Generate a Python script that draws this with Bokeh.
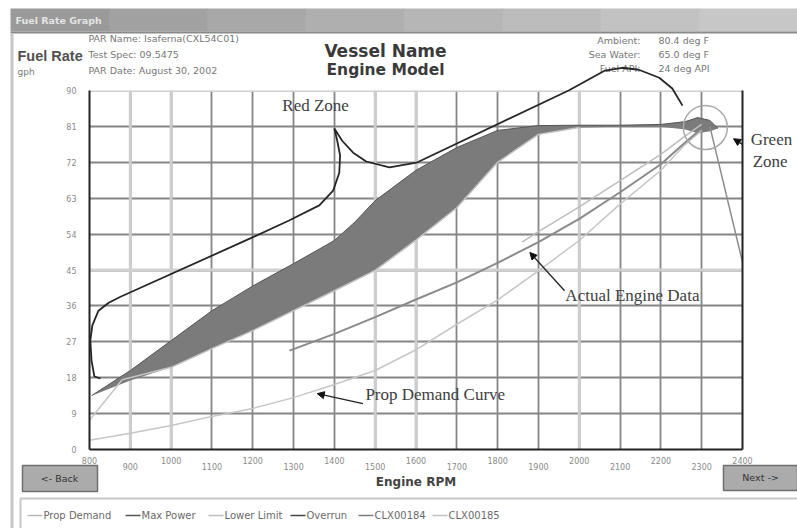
from bokeh.plotting import figure
from bokeh.models import (FixedTicker, Span, Range1d, Arrow, NormalHead, LinearAxis)
from bokeh.core.properties import value
from bokeh.embed import file_html
from bokeh.resources import INLINE

# ---------------- data ----------------
x_ticks = list(range(800, 2401, 100))
x_tick_labels = [str(t) for t in x_ticks]
y_ticks = list(range(0, 91, 9))
light_grid_rpm = [900, 1000, 1500, 1600, 2000]
light_grid_gph = [45, 90]

band_rpm = [805, 900, 1000, 1100, 1200, 1300, 1400, 1450, 1500, 1600, 1700, 1800, 1900, 2000,
            2100, 2200, 2260, 2290, 2320, 2340]
max_power_gph = [13.5, 19.8, 27.3, 34.8, 41.0, 46.6, 52.4, 57.0, 62.4, 70.0, 75.7, 80.0, 81.2, 81.3,
                 81.3, 81.5, 82.2, 83.2, 82.5, 80.5]
band_lower_gph = [13.5, 17.3, 20.6, 25.3, 29.8, 34.8, 39.8, 42.3, 44.9, 52.5, 60.6, 72.0, 79.0, 80.7,
                  80.9, 80.9, 80.2, 79.3, 79.8, 80.5]

lower_limit_rpm = [800, 880, 1000, 1100, 1200, 1300, 1400, 1500, 1600, 1700, 1800, 1900, 2000]
lower_limit_gph = [7.3, 17.5, 20.6, 25.3, 29.8, 34.8, 39.8, 44.9, 52.5, 60.6, 72.0, 79.0, 80.7]

prop_rpm = [800, 900, 1000, 1100, 1200, 1300, 1400, 1500, 1600, 1700, 1800, 1900, 2000, 2100,
            2200, 2260, 2300]
prop_gph = [2.3, 4.1, 6.0, 8.3, 10.3, 13.0, 16.3, 19.8, 25.0, 31.4, 37.5, 44.8, 52.4, 61.5,
            70.0, 76.5, 80.0]

clx184_rpm = [1290, 1400, 1500, 1600, 1700, 1800, 1900, 2000, 2100, 2200, 2260, 2300]
clx184_gph = [24.8, 29.0, 33.2, 37.6, 41.9, 46.8, 52.0, 57.8, 64.5, 71.5, 77.0, 80.5]

clx185_rpm = [1860, 1900, 2000, 2100, 2200, 2260, 2300]
clx185_gph = [52.0, 54.6, 60.8, 67.4, 74.0, 78.6, 81.5]

overrun_rpm = [2320, 2400]
overrun_gph = [81.0, 47.0]

red_zone_rpm = [827, 812, 805, 802, 807, 822, 847, 876, 1198, 1289, 1363, 1397, 1412, 1414, 1407,
                1400, 1419, 1446, 1478, 1535, 1601, 1974, 2063, 2105, 2146, 2196, 2228, 2253]
red_zone_gph = [17.8, 18.3, 22.3, 27.3, 31.1, 34.8, 36.8, 38.3, 53.1, 57.4, 61.2, 64.9, 69.4, 73.7,
                77.4, 80.5, 77.4, 74.4, 72.2, 70.7, 71.9, 90.0, 95.0, 95.7, 95.2, 93.2, 90.5, 86.2]

green_zone_rpm = [2309]
green_zone_gph = [80.7]

callout_text = ["Actual Engine Data", "Prop Demand Curve", "Green", "Zone"]
callout_text_rpm = [1966, 1476, 2420, 2425]
callout_text_gph = [38.6, 13.8, 77.7, 72.2]
red_zone_label = ["Red Zone"]
red_zone_label_rpm = [1354]
red_zone_label_gph = [86.2]
callout_from_rpm = [1964, 1470, 2400]
callout_from_gph = [39.8, 11.5, 76.5]
callout_to_rpm = [1879, 1358, 2378]
callout_to_gph = [49.4, 14.0, 77.9]

legend_labels = ["Prop Demand", "Max Power", "Lower Limit", "Overrun", "CLX00184", "CLX00185"]
legend_colors = ["#b8b8b8", "#555555", "#bdbdbd", "#444444", "#7c7c7c", "#c0c0c0"]

header_left = ["PAR Name: Isaferna(CXL54C01)", "Test Spec: 09.5475", "PAR Date: August 30, 2002"]
header_right_keys = ["Ambient:", "Sea Water:", "Fuel API:"]
header_right_vals = ["80.4 deg F", "65.0 deg F", "24 deg API"]

SANS = "DejaVu Sans"
ARIAL = "Liberation Sans"
SERIF = "Liberation Serif"

# ---------------- figure ----------------
W, H = 797, 528
p = figure(width=W, height=H, x_range=(800, 2400), y_range=(0, 90),
           output_backend="svg", toolbar_location=None,
           min_border_left=89, min_border_right=55, min_border_top=90, min_border_bottom=79,
           background_fill_color="white", border_fill_color="white")
p.outline_line_color = None
# page-pixel coordinate system (identical to canvas pixels) for the window chrome
p.extra_x_ranges = {"px": Range1d(89, 742)}
p.extra_y_ranges = {"px": Range1d(449, 90)}
PX = dict(x_range_name="px", y_range_name="px", level="overlay")

# grid
p.xgrid.ticker = FixedTicker(ticks=x_ticks)
p.ygrid.ticker = FixedTicker(ticks=y_ticks)
for g in (p.xgrid, p.ygrid):
    g.grid_line_color = "#858585"
    g.grid_line_width = 1.8
for r in light_grid_rpm:
    p.add_layout(Span(location=r, dimension="height", line_color="#cdcdcd", line_width=3, level="underlay"))
for g in light_grid_gph:
    p.add_layout(Span(location=g, dimension="width", line_color="#d0d0d0", line_width=3, level="underlay"))

# axes
p.yaxis.ticker = FixedTicker(ticks=y_ticks)
p.yaxis.major_tick_line_color = None
p.yaxis.minor_tick_line_color = None
p.yaxis.axis_line_color = "#222222"
p.yaxis.axis_line_width = 2
p.yaxis.major_label_text_font = SANS
p.yaxis.major_label_text_font_size = "8px"
p.yaxis.major_label_text_color = "#8a8a8a"
p.yaxis.major_label_standoff = 7

p.xaxis.ticker = FixedTicker(ticks=x_ticks)
p.xaxis.major_tick_line_color = None
p.xaxis.minor_tick_line_color = None
p.xaxis.axis_line_color = "#222222"
p.xaxis.axis_line_width = 2
p.xaxis.major_label_text_font_size = "8px"
p.xaxis.major_label_text_color = None
p.xaxis.major_label_standoff = 6
p.xaxis.axis_label = "Engine RPM"
p.xaxis.axis_label_text_font = SANS
p.xaxis.axis_label_text_font_style = "bold"
p.xaxis.axis_label_text_font_size = "12px"
p.xaxis.axis_label_text_color = "#444444"
p.xaxis.axis_label_standoff = 19

right_axis = LinearAxis(ticker=FixedTicker(ticks=[]), major_tick_line_color=None,
                        minor_tick_line_color=None, major_label_text_font_size="0px",
                        axis_line_color="#222222", axis_line_width=2)
p.add_layout(right_axis, "right")

# ---------------- data renderers ----------------
p.varea(x=band_rpm, y1=band_lower_gph, y2=max_power_gph, fill_color="#7b7b7b")
p.line(band_rpm, max_power_gph, line_color="#555555", line_width=1)
p.line(lower_limit_rpm, lower_limit_gph, line_color="#c4c4c4", line_width=1.5)
p.line(prop_rpm, prop_gph, line_color="#c6c6c6", line_width=1.5)
p.line(clx184_rpm, clx184_gph, line_color="#8a8a8a", line_width=2)
p.line(clx185_rpm, clx185_gph, line_color="#bdbdbd", line_width=1.5)
p.line(overrun_rpm, overrun_gph, line_color="#8c8c8c", line_width=1.5)
p.scatter(green_zone_rpm, green_zone_gph, size=44, marker="circle", fill_color=None,
          line_color="#a8a8a8", line_width=1.5)

# callout arrows
for i in range(len(callout_to_rpm)):
    p.add_layout(Arrow(x_start=callout_from_rpm[i], y_start=callout_from_gph[i],
                       x_end=callout_to_rpm[i], y_end=callout_to_gph[i],
                       line_color="#222222", line_width=1.3,
                       end=NormalHead(size=7, fill_color="#111111", line_color="#111111")))

# ---------------- window chrome (page pixels) ----------------
shades = ["#9a9a9a", "#a1a1a1", "#a8a8a8", "#afafaf", "#b6b6b6", "#bcbcbc", "#c2c2c2", "#c7c7c7"]
seg = (797 - 10) / len(shades)
p.quad(left=[10 + i * seg for i in range(len(shades))],
       right=[10 + (i + 1) * seg + 1 for i in range(len(shades))],
       top=[8] * len(shades), bottom=[31] * len(shades),
       fill_color=shades, line_color=None, **PX)
p.quad(left=[10], right=[797], top=[31], bottom=[33], fill_color="#8a8a8a", line_color=None, **PX)
p.quad(left=[10], right=[13], top=[33], bottom=[528], fill_color="#c6c6c6", line_color=None, **PX)

def ptext(xs, ys, texts, size="9.5px", color="#777777", style="normal", align="left",
          font=SANS, data=False):
    kw = dict(level="overlay") if data else PX
    p.text(x=xs, y=ys, text=texts, text_font=value(font), text_font_size=size,
           text_color=color, text_font_style=style, text_align=align,
           text_baseline="middle", **kw)

ptext([15], [20], ["Fuel Rate Graph"], size="9.5px", color="#e4e4e4", style="bold")
ptext([17], [55], ["Fuel Rate"], size="14.5px", color="#505050", style="bold", font=ARIAL)
ptext([17], [71], ["gph"], size="9px")
ptext([88] * 3, [38, 54, 70], header_left)
ptext([385], [50], ["Vessel Name"], size="17px", color="#3a3a3a", style="bold", align="center")
ptext([385], [69], ["Engine Model"], size="15.5px", color="#3a3a3a", style="bold", align="center")
ptext([640] * 3, [40, 54, 68], header_right_keys, align="right")
ptext([658] * 3, [40, 54, 68], header_right_vals)

# staggered x tick labels (data x, page-pixel y)
p.text(x=x_ticks, y=[460 if i % 2 == 0 else 466 for i in range(len(x_ticks))], text=x_tick_labels,
       y_range_name="px", level="overlay", text_font=value(SANS), text_font_size="8px",
       text_color="#8a8a8a", text_align="center", text_baseline="middle")

# buttons
p.quad(left=[22, 723], right=[97, 797], top=[465, 465], bottom=[491, 490],
       fill_color="#ababab", line_color="#6f6f6f", line_width=1.5, **PX)
ptext([59, 760], [478, 477], ["<- Back", "Next ->"], color="#333333", align="center")

# legend box and entries
p.quad(left=[20], right=[800], top=[498], bottom=[532], fill_color="white",
       line_color="#c8c8c8", line_width=2, **PX)
leg_x = [27, 125, 208, 290, 358, 432]
p.segment(x0=leg_x, y0=[515] * 6, x1=[x + 15 for x in leg_x], y1=[515] * 6,
          line_color=legend_colors, line_width=1.5, **PX)
ptext([x + 16 for x in leg_x], [515] * 6, legend_labels, size="10px", color="#6a6a6a")

# red zone outline and callout texts (data coordinates, allowed outside the frame)
p.line(red_zone_rpm, red_zone_gph, line_color="#262626", line_width=1.8, level="overlay")
ptext(callout_text_rpm, callout_text_gph, callout_text, size="17px", color="#404040",
      font=SERIF, data=True)
ptext(red_zone_label_rpm, red_zone_label_gph, red_zone_label, size="17px", color="#404040",
      font=SERIF, data=True, align="center")

open("out.html", "w").write(file_html(p, INLINE))
